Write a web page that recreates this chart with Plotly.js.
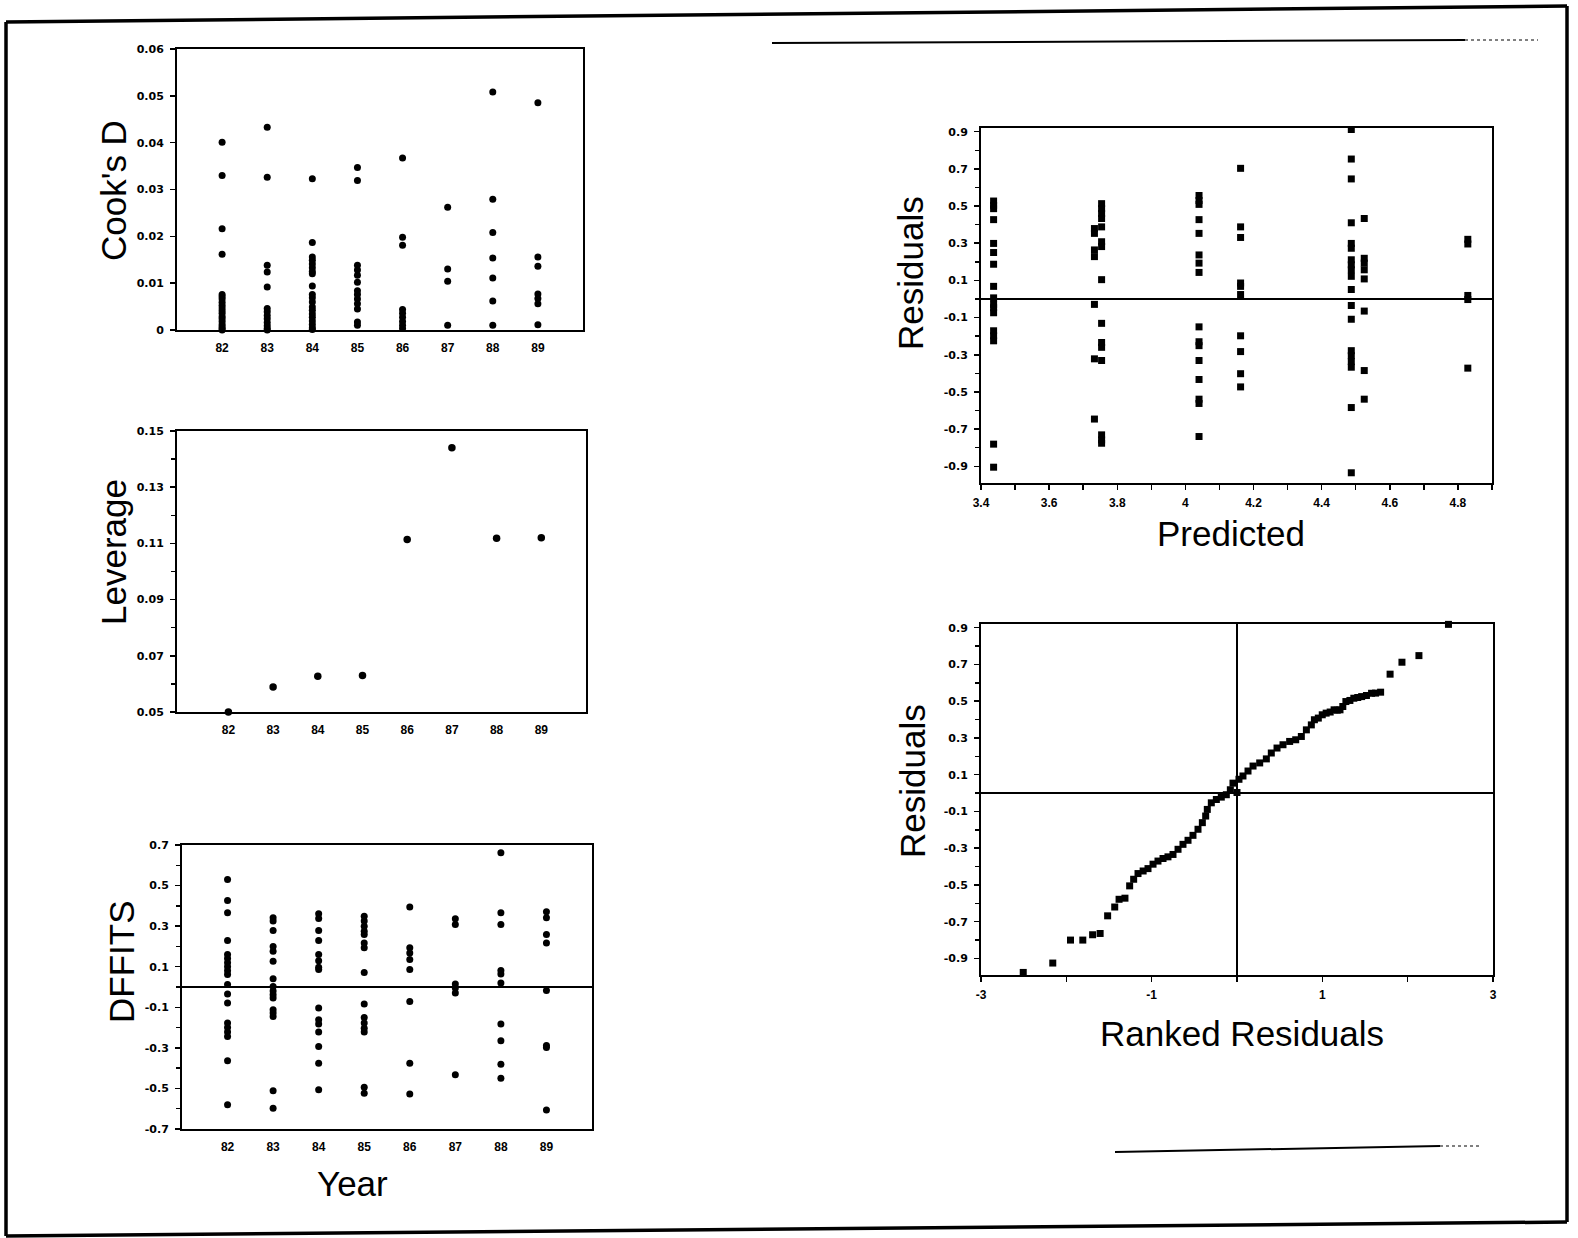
<!DOCTYPE html>
<html><head><meta charset="utf-8">
<script src="https://cdn.plot.ly/plotly-3.0.1.min.js"></script>
<style>html,body{margin:0;padding:0;background:#fff;} #chart{width:1578px;height:1238px;}</style>
</head><body><div id="chart"></div>
<script>
// ---------- DATA ----------
const years = [82, 83, 84, 85, 86, 87, 88, 89];
const yearLabels = ["82", "83", "84", "85", "86", "87", "88", "89"];

// Cook's D by year
const cooks82 = [0.0401, 0.0330, 0.0216, 0.0162, 0.0076, 0.0071, 0.0066, 0.0059, 0.0053, 0.0047, 0.0041, 0.0036, 0.0029, 0.0024, 0.0018, 0.0012, 0.0007, 0.0003, 0.0000];
const cooks83 = [0.0433, 0.0326, 0.0138, 0.0124, 0.0092, 0.0046, 0.0039, 0.0031, 0.0024, 0.0016, 0.0009, 0.0003, 0.0000];
const cooks84 = [0.0323, 0.0187, 0.0156, 0.0149, 0.0141, 0.0133, 0.0125, 0.0120, 0.0094, 0.0076, 0.0069, 0.0060, 0.0049, 0.0042, 0.0034, 0.0027, 0.0019, 0.0012, 0.0005, 0.0001];
const cooks85 = [0.0347, 0.0319, 0.0138, 0.0128, 0.0117, 0.0102, 0.0084, 0.0076, 0.0066, 0.0056, 0.0045, 0.0017, 0.0010];
const cooks86 = [0.0367, 0.0198, 0.0181, 0.0044, 0.0036, 0.0027, 0.0018, 0.0010, 0.0003];
const cooks87 = [0.0262, 0.0130, 0.0104, 0.0010];
const cooks88 = [0.0508, 0.0279, 0.0208, 0.0154, 0.0111, 0.0062, 0.0010];
const cooks89 = [0.0485, 0.0156, 0.0136, 0.0077, 0.0067, 0.0056, 0.0011];

// Leverage by year
const leverage = [0.0500, 0.0589, 0.0627, 0.0630, 0.1114, 0.1440, 0.1118, 0.1120];

// DFFITS by year
const dffits82 = [0.530, 0.427, 0.366, 0.229, 0.160, 0.140, 0.120, 0.100, 0.080, 0.062, 0.012, -0.035, -0.079, -0.178, -0.200, -0.222, -0.244, -0.364, -0.581];
const dffits83 = [0.341, 0.325, 0.278, 0.200, 0.176, 0.127, 0.041, 0.003, -0.020, -0.038, -0.054, -0.112, -0.128, -0.145, -0.511, -0.598];
const dffits84 = [0.361, 0.338, 0.278, 0.229, 0.160, 0.130, 0.097, 0.086, -0.104, -0.161, -0.183, -0.222, -0.293, -0.376, -0.507];
const dffits85 = [0.349, 0.325, 0.300, 0.275, 0.259, 0.217, 0.193, 0.072, -0.084, -0.150, -0.178, -0.203, -0.222, -0.494, -0.524];
const dffits86 = [0.394, 0.193, 0.168, 0.135, 0.086, -0.071, -0.376, -0.527];
const dffits87 = [0.336, 0.308, 0.015, -0.005, -0.030, -0.433];
const dffits88 = [0.662, 0.366, 0.308, 0.081, 0.064, 0.020, -0.183, -0.265, -0.381, -0.450];
const dffits89 = [0.371, 0.341, 0.259, 0.217, -0.017, -0.288, -0.298, -0.606];

// Residuals vs predicted (one predicted value per group)
const predictedValues = [3.437, 3.733, 3.754, 4.040, 4.162, 4.487, 4.525, 4.829];
const resid1 = [0.527, 0.504, 0.486, 0.427, 0.299, 0.250, 0.187, 0.068, 0.006, -0.029, -0.047, -0.074, -0.171, -0.198, -0.225, -0.781, -0.905];
const resid2 = [0.379, 0.353, 0.264, 0.228, -0.029, -0.322, -0.646];
const resid3 = [0.513, 0.486, 0.460, 0.433, 0.388, 0.308, 0.282, 0.104, -0.131, -0.234, -0.260, -0.331, -0.731, -0.758, -0.776];
const resid4 = [0.557, 0.530, 0.509, 0.427, 0.353, 0.237, 0.193, 0.143, -0.150, -0.230, -0.251, -0.331, -0.433, -0.539, -0.562, -0.740];
const resid5 = [0.703, 0.388, 0.331, 0.086, 0.068, 0.024, -0.198, -0.283, -0.402, -0.473];
const resid6 = [0.912, 0.753, 0.646, 0.410, 0.299, 0.273, 0.211, 0.184, 0.157, 0.122, 0.051, -0.035, -0.109, -0.278, -0.305, -0.337, -0.367, -0.584, -0.935];
const resid7 = [0.433, 0.219, 0.193, 0.157, 0.108, -0.065, -0.385, -0.539];
const resid8 = [0.321, 0.296, 0.019, -0.003, -0.372];

// Ranked residuals (normal score, residual)
const rankScore = [-2.505, -2.159, -1.951, -1.807, -1.692, -1.604, -1.516, -1.433, -1.382, -1.313,
  -1.258, -1.211, -1.160, -1.100, -1.043, -0.984, -0.926, -0.867, -0.809, -0.750, -0.691, -0.633, -0.574, -0.516, -0.457,
  -0.406, -0.367, -0.348, -0.301, -0.242, -0.184, -0.125, -0.078, -0.047, 0.000, 0.023, 0.070, 0.129, 0.188, 0.266,
  0.344, 0.402, 0.469, 0.539, 0.617, 0.688, 0.754, 0.813, 0.871, 0.907, 0.953, 0.999, 1.045, 1.092, 1.138, 1.175,
  1.207, 1.240, 1.276, 1.323, 1.369, 1.415, 1.461, 1.517, 1.577, 1.624, 1.683, 1.794, 1.933, 2.132, 2.478];
const rankResid = [-0.976, -0.925, -0.800, -0.800, -0.771, -0.764, -0.668, -0.620, -0.578, -0.572,
  -0.505, -0.469, -0.438, -0.424, -0.411, -0.387, -0.370, -0.356, -0.347, -0.334, -0.306, -0.279, -0.257, -0.230, -0.197,
  -0.161, -0.125, -0.089, -0.053, -0.035, -0.022, -0.009, 0.018, 0.054, 0.003, 0.075, 0.093, 0.120, 0.147, 0.164,
  0.186, 0.218, 0.245, 0.263, 0.281, 0.290, 0.308, 0.344, 0.371, 0.399, 0.408, 0.426, 0.435, 0.441, 0.453, 0.451,
  0.453, 0.471, 0.498, 0.504, 0.516, 0.520, 0.525, 0.531, 0.543, 0.544, 0.549, 0.647, 0.712, 0.748, 0.918];

// Tick labels
const cooksTicks = [0, 0.01, 0.02, 0.03, 0.04, 0.05, 0.06];
const cooksTickText = ["0", "0.01", "0.02", "0.03", "0.04", "0.05", "0.06"];
const levTicks = [0.05, 0.07, 0.09, 0.11, 0.13, 0.15];
const levTickText = ["0.05", "0.07", "0.09", "0.11", "0.13", "0.15"];
const levMinor = [0.06, 0.08, 0.10, 0.12, 0.14];
const dfTicks = [-0.7, -0.5, -0.3, -0.1, 0.1, 0.3, 0.5, 0.7];
const dfTickText = ["-0.7", "-0.5", "-0.3", "-0.1", "0.1", "0.3", "0.5", "0.7"];
const dfMinor = [-0.6, -0.4, -0.2, 0, 0.2, 0.4, 0.6];
const resTicks = [-0.9, -0.7, -0.5, -0.3, -0.1, 0.1, 0.3, 0.5, 0.7, 0.9];
const resTickText = ["-0.9", "-0.7", "-0.5", "-0.3", "-0.1", "0.1", "0.3", "0.5", "0.7", "0.9"];
const resMinor = [-0.8, -0.6, -0.4, -0.2, 0, 0.2, 0.4, 0.6, 0.8];
const predTicks = [3.4, 3.6, 3.8, 4.0, 4.2, 4.4, 4.6, 4.8];
const predTickText = ["3.4", "3.6", "3.8", "4", "4.2", "4.4", "4.6", "4.8"];
const predMinor = [3.5, 3.7, 3.9, 4.1, 4.3, 4.5, 4.7, 4.9];
const rankTicks = [-3, -1, 1, 3];
const rankTickText = ["-3", "-1", "1", "3"];
const rankMinor = [-2, 0, 2];

// ---------- BUILD ----------
const W = 1578, H = 1238;
const dx = (a, b) => [a / W, b / W];
const dy = (top, bottom) => [1 - bottom / H, 1 - top / H];
const px = v => v / W, py = v => 1 - v / H;

function byYear(groups, xa, ya) {
  const x = [], y = [];
  groups.forEach((vals, i) => vals.forEach(v => { x.push(years[i]); y.push(v); }));
  return {type: 'scatter', mode: 'markers', x, y, xaxis: xa, yaxis: ya, cliponaxis: false, hoverinfo: 'none',
    marker: {color: '#000', size: 7, symbol: 'circle'}};
}
function byPred(groups, xa, ya) {
  const x = [], y = [];
  groups.forEach((vals, i) => vals.forEach(v => { x.push(predictedValues[i]); y.push(v); }));
  return {type: 'scatter', mode: 'markers', x, y, xaxis: xa, yaxis: ya, cliponaxis: false, hoverinfo: 'none',
    marker: {color: '#000', size: 7, symbol: 'square'}};
}

const traces = [
  byYear([cooks82, cooks83, cooks84, cooks85, cooks86, cooks87, cooks88, cooks89], 'x', 'y'),
  {type: 'scatter', mode: 'markers', x: years, y: leverage, xaxis: 'x2', yaxis: 'y2', cliponaxis: false, hoverinfo: 'none',
    marker: {color: '#000', size: 7.5, symbol: 'circle'}},
  byYear([dffits82, dffits83, dffits84, dffits85, dffits86, dffits87, dffits88, dffits89], 'x3', 'y3'),
  byPred([resid1, resid2, resid3, resid4, resid5, resid6, resid7, resid8], 'x4', 'y4'),
  {type: 'scatter', mode: 'markers', x: rankScore, y: rankResid, xaxis: 'x5', yaxis: 'y5', cliponaxis: false, hoverinfo: 'none',
    marker: {color: '#000', size: 7, symbol: 'square'}}
];

const yFont = {family: 'DejaVu Sans', size: 11, color: '#000', weight: 'bold'};
const xFont = {family: 'Liberation Sans, Arial', size: 12, color: '#000', weight: 'bold'};
const base = {showline: true, mirror: true, linecolor: '#000', linewidth: 2, showgrid: false, zeroline: false,
  fixedrange: true, tickcolor: '#000', tickwidth: 1.5};

function xYear(domain, range, anchor) {
  return Object.assign({}, base, {domain, range, anchor, tickmode: 'array', tickvals: years, ticktext: yearLabels,
    ticks: '', tickfont: xFont, ticklabelstandoff: 6});
}
function yAxis(domain, range, anchor, vals, text, minor) {
  const a = Object.assign({}, base, {domain, range, anchor, tickmode: 'array', tickvals: vals, ticktext: text,
    ticks: 'outside', ticklen: 5, tickfont: yFont, ticklabelstandoff: 4});
  if (minor) a.minor = {tickvals: minor, ticks: 'outside', ticklen: 4, tickcolor: '#000', tickwidth: 1.5};
  return a;
}

const layout = {
  width: W, height: H, margin: {l: 0, r: 0, t: 0, b: 0}, paper_bgcolor: '#fff', plot_bgcolor: '#fff',
  showlegend: false,
  xaxis: xYear(dx(177, 583), [81, 90], 'y'),
  yaxis: yAxis(dy(49, 330), [0, 0.06], 'x', cooksTicks, cooksTickText, null),
  xaxis2: xYear(dx(177, 586), [80.85, 90], 'y2'),
  yaxis2: yAxis(dy(431, 712), [0.05, 0.15], 'x2', levTicks, levTickText, levMinor),
  xaxis3: xYear(dx(182, 592), [81, 90], 'y3'),
  yaxis3: Object.assign(yAxis(dy(845, 1129), [-0.7, 0.7], 'x3', dfTicks, dfTickText, dfMinor),
    {zeroline: true, zerolinecolor: '#000', zerolinewidth: 1.5}),
  xaxis4: Object.assign({}, base, {domain: dx(981, 1492), range: [3.4, 4.9], anchor: 'y4', tickmode: 'array',
    tickvals: predTicks, ticktext: predTickText, ticks: 'outside', ticklen: 5, tickfont: xFont, ticklabelstandoff: 3,
    minor: {tickvals: predMinor, ticks: 'outside', ticklen: 5, tickcolor: '#000', tickwidth: 1.5}}),
  yaxis4: Object.assign(yAxis(dy(128, 483), [-0.99, 0.92], 'x4', resTicks, resTickText, resMinor),
    {zeroline: true, zerolinecolor: '#000', zerolinewidth: 1.5}),
  xaxis5: Object.assign({}, base, {domain: dx(981, 1493), range: [-3, 3], anchor: 'y5', tickmode: 'array',
    tickvals: rankTicks, ticktext: rankTickText, ticks: 'outside', ticklen: 5, tickfont: xFont, ticklabelstandoff: 3,
    zeroline: true, zerolinecolor: '#000', zerolinewidth: 1.5,
    minor: {tickvals: rankMinor, ticks: 'outside', ticklen: 5, tickcolor: '#000', tickwidth: 1.5}}),
  yaxis5: Object.assign(yAxis(dy(624, 975), [-0.99, 0.92], 'x5', resTicks, resTickText, resMinor),
    {zeroline: true, zerolinecolor: '#000', zerolinewidth: 1.5}),
  annotations: [],
  shapes: []
};

const tf = {family: 'Liberation Sans, Arial', size: 35, color: '#000'};
function ann(text, x, y, angle) {
  return {text, x: px(x), y: py(y), xref: 'paper', yref: 'paper', showarrow: false, textangle: angle || 0,
    xanchor: 'center', yanchor: 'middle', font: tf};
}
layout.annotations.push(
  ann("Cook's D", 113, 191, -90),
  ann("Leverage", 113, 552, -90),
  ann("DFFITS", 121, 962, -90),
  ann("Year", 352, 1183, 0),
  ann("Residuals", 910, 273, -90),
  ann("Predicted", 1231, 534, 0),
  ann("Residuals", 913, 781, -90),
  ann("Ranked Residuals", 1242, 1033, 0)
);

function seg(x0, y0, x1, y1, w, dash) {
  return {type: 'line', xref: 'paper', yref: 'paper', x0: px(x0), y0: py(y0), x1: px(x1), y1: py(y1),
    line: {color: '#000', width: w, dash: dash || 'solid'}};
}
// page frame and rule lines of the scanned page
layout.shapes.push(
  seg(6, 22, 1567, 6, 3.5),
  seg(6, 22, 6, 1236, 3.5),
  seg(1567, 6, 1567, 1222, 3.5),
  seg(6, 1236, 1567, 1222, 3.5),
  seg(772, 43, 1465, 40, 2),
  seg(1465, 40, 1538, 40, 1, 'dot'),
  seg(1115, 1152, 1440, 1146, 2),
  seg(1440, 1146, 1480, 1146, 1, 'dot')
);

Plotly.newPlot('chart', traces, layout, {staticPlot: true, displayModeBar: false});
</script>
</body></html>
